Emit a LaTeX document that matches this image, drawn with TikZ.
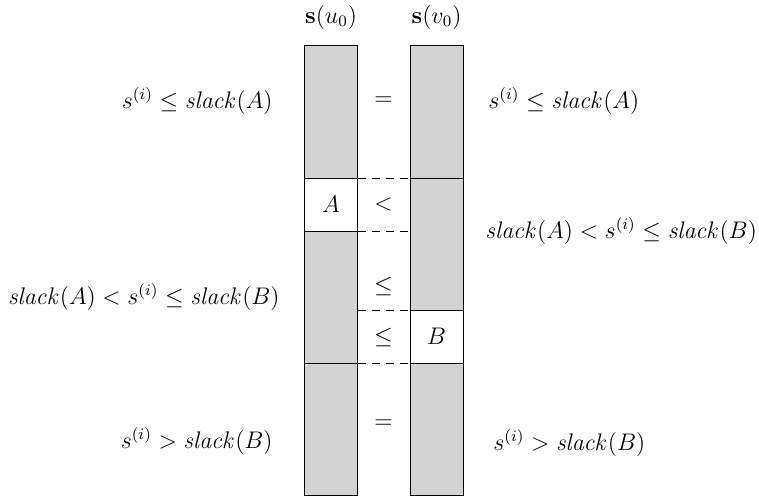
\documentclass[tikz,border=0pt,12pt]{standalone}
\usepackage{amsmath,amssymb}
\usepackage{tikz}
\usetikzlibrary{positioning}
\definecolor{slackgray}{RGB}{211,211,211}
\tikzset{
  seg/.style={draw, fill=slackgray, minimum width=26.5pt, minimum height=#1,
              inner sep=0pt, outer sep=0pt},
  seg/.default=66.5pt,
  wseg/.style={seg=#1, fill=white},
  wseg/.default=26.5pt,
  rel/.style={inner sep=0pt},
  lbl/.style={inner sep=0pt},
  cut/.style={dash pattern=on 4pt off 3pt},
}
\begin{document}
\begin{tikzpicture}[x=0.5pt,y=-0.5pt,node distance=0pt]
  \useasboundingbox (0,0) rectangle (759,499);

  % column headers
  \node (hu) at (331,17) {$\mathbf{s}(u_0)$};
  \node (hv) at (436.5,17) {$\mathbf{s}(v_0)$};

  % left column s(u0)
  \node[seg] (l1) at (331,111.5) {};
  \node[wseg, below=of l1] (la) {$A$};
  \node[seg=66pt, below=of la] (l3) {};
  \node[seg=66pt, below=of l3] (l4) {};

  % right column s(v0)
  \node[seg] (r1) at (436.5,111.5) {};
  \node[seg=66pt, below=of r1] (r2) {};
  \node[wseg, below=of r2] (rb) {$B$};
  \node[seg=66pt, below=of rb] (r4) {};

  % cuts between the columns
  \draw[cut] (la.north east) -- (r2.north west);
  \draw[cut] (la.south east) -- (la.south east -| r2.west);
  \draw[cut] (l3.east |- rb.north) -- (rb.north west);
  \draw[cut] (l4.north east) -- (r4.north west);

  % relations
  \node[rel] (e1) at (383.5,101) {$=$};
  \node[rel] (lt) at (383.5,204.5) {$<$};
  \node[rel] (le1) at (383.5,286) {$\leq$};
  \node[rel] (le2) at (383.5,337) {$\leq$};
  \node[rel] (e2) at (383.5,424) {$=$};

  % conditions, left
  \node[lbl, anchor=east] (cl1) at (273,101) {$s^{(i)} \leq \mathit{slack}(A)$};
  \node[lbl, anchor=east] (cl2) at (280,297) {$\mathit{slack}(A) < s^{(i)} \leq \mathit{slack}(B)$};
  \node[lbl, anchor=east] (cl3) at (273,441) {$s^{(i)} > \mathit{slack}(B)$};

  % conditions, right
  \node[lbl, anchor=west] (cr1) at (488,101) {$s^{(i)} \leq \mathit{slack}(A)$};
  \node[lbl, anchor=west] (cr2) at (485,231) {$\mathit{slack}(A) < s^{(i)} \leq \mathit{slack}(B)$};
  \node[lbl, anchor=west] (cr3) at (493,443) {$s^{(i)} > \mathit{slack}(B)$};
\end{tikzpicture}
\end{document}
